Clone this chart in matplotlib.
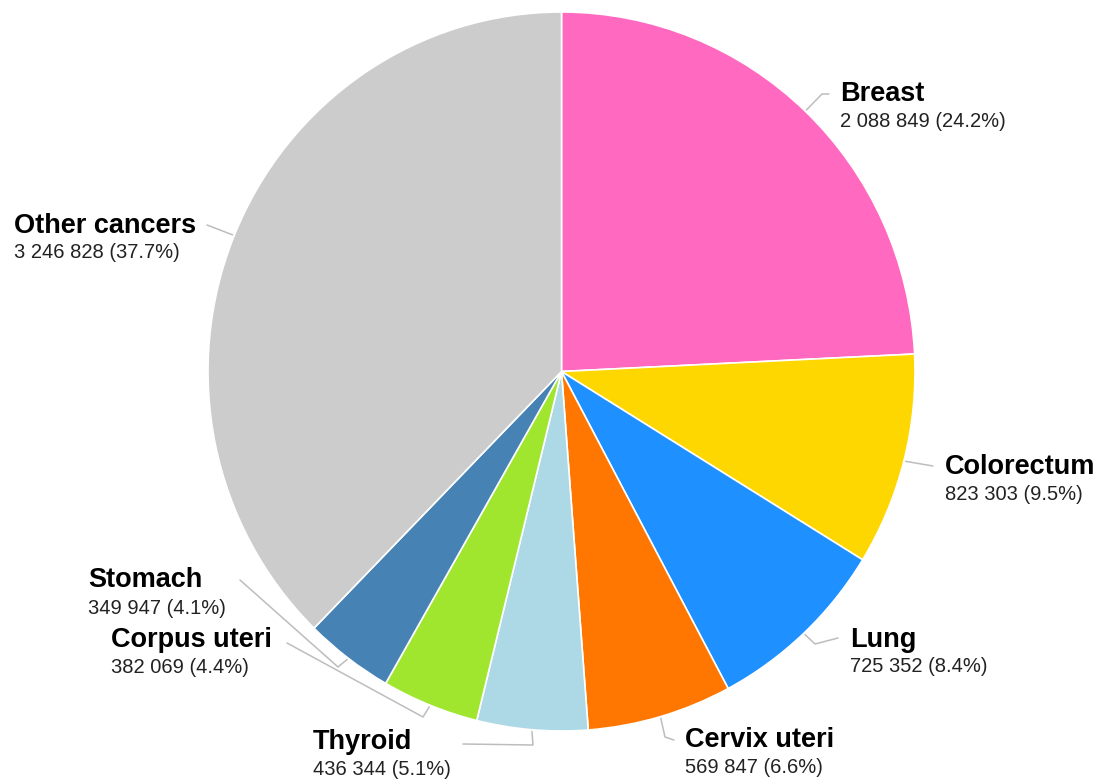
import numpy as np
import matplotlib
matplotlib.use('Agg')
import matplotlib.pyplot as plt

plt.rcParams['font.family'] = ['Liberation Sans', 'DejaVu Sans']

# data (clockwise from 12 o'clock)
sites = ['Breast', 'Colorectum', 'Lung', 'Cervix uteri', 'Thyroid',
         'Corpus uteri', 'Stomach', 'Other cancers']
cases = [2088849, 823303, 725352, 569847, 436344, 382069, 349947, 3246828]
colors = ['#FF69C0', '#FFD700', '#1E90FF', '#FF7700', '#ADD8E6',
          '#A0E62F', '#4682B4', '#CCCCCC']

# layout in pixel units (x from left, y from top)
W, H = 1101, 782
cx, cy = 561.5, 371.5
rx, ry = 353.5, 359.5
ky = ry / rx  # pie is slightly taller than wide
# label anchor (left x, baseline of name, baseline of value)
label_pos = {
    'Breast': (840, 101, 127),
    'Colorectum': (945, 474, 500),
    'Lung': (850, 647, 672),
    'Cervix uteri': (685, 747, 773),
    'Thyroid': (313, 749, 775),
    'Corpus uteri': (111, 647, 673),
    'Stomach': (88, 587, 614),
    'Other cancers': (14, 233, 258),
}
# leader line waypoints after the pie-edge point
leader_pts = {
    'Breast': [(822, 94), (829, 94)],
    'Colorectum': [(933, 466)],
    'Lung': [(815, 644), (838, 638)],
    'Cervix uteri': [(665, 737), (674, 740)],
    'Thyroid': [(533, 745), (463, 744)],
    'Corpus uteri': [(423, 717), (287, 643)],
    'Stomach': [(338, 667), (240, 580)],
    'Other cancers': [(207, 225)],
}


def py(v):
    return v / ky


fig = plt.figure(figsize=(W / 100, H / 100), dpi=100)
ax = fig.add_axes([0, 0, 1, 1])

# y axis is inverted, so counterclockwise in data = clockwise on screen
ax.pie(cases, colors=colors, startangle=-90, counterclock=True,
       center=(cx, py(cy)), radius=rx,
       wedgeprops=dict(edgecolor='white', linewidth=1.2))
ax.set_aspect('auto')
ax.set_xlim(0, W)
ax.set_ylim(py(H), 0)
ax.axis('off')

total = sum(cases)
frac = np.array(cases) / total
mids = (np.cumsum(frac) - frac / 2) * 2 * np.pi  # clockwise from top
for name, n, f, m in zip(sites, cases, frac, mids):
    # leader line
    ex = cx + rx * 1.005 * np.sin(m)
    ey = cy - ry * 1.005 * np.cos(m)
    pts = [(ex, ey)] + leader_pts[name]
    xs = [p[0] for p in pts]
    ys = [py(p[1]) for p in pts]
    ax.plot(xs, ys, color='#BDBDBD', lw=1.1, solid_capstyle='round')
    # labels
    lx, by1, by2 = label_pos[name]
    ax.text(lx, py(by1), name, fontsize=19.5, fontweight='bold',
            color='#000000', va='baseline', ha='left')
    val = f'{n:,}'.replace(',', ' ') + f' ({f * 100:.1f}%)'
    ax.text(lx, py(by2), val, fontsize=14.5, color='#222222',
            va='baseline', ha='left')

fig.savefig('out.png', dpi=100)
